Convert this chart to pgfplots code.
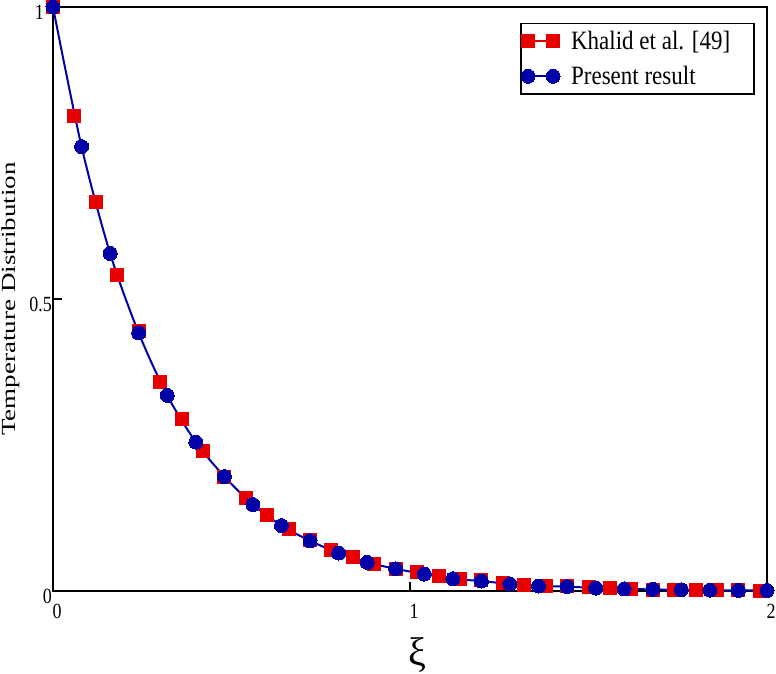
\documentclass[border=0pt]{standalone}
\usepackage{fontspec}
\setmainfont{Liberation Serif}
\usepackage{pgfplots}
\pgfplotsset{compat=1.18}

\definecolor{khalidred}{RGB}{232,0,0}
\definecolor{presentblue}{RGB}{0,0,168}

\pgfplotstableread{
x      T
0.00   1.000
0.06   0.814
0.12   0.666
0.18   0.541
0.24   0.445
0.30   0.358
0.36   0.294
0.42   0.240
0.48   0.196
0.54   0.160
0.60   0.130
0.66   0.107
0.72   0.088
0.78   0.070
0.84   0.058
0.90   0.047
0.96   0.038
1.02   0.033
1.08   0.026
1.14   0.021
1.20   0.018
1.26   0.014
1.32   0.010
1.38   0.0085
1.44   0.0080
1.50   0.0060
1.56   0.0050
1.62   0.0035
1.68   0.0025
1.74   0.0020
1.80   0.0018
1.86   0.0015
1.92   0.0010
1.98   0.0008
}\khalid

\pgfplotstableread{
x      T
0.00   1.000
0.08   0.761
0.16   0.578
0.24   0.442
0.32   0.335
0.40   0.255
0.48   0.196
0.56   0.148
0.64   0.112
0.72   0.086
0.80   0.065
0.88   0.049
0.96   0.038
1.04   0.029
1.12   0.021
1.20   0.017
1.28   0.012
1.36   0.0085
1.44   0.0075
1.52   0.0050
1.60   0.0035
1.68   0.0028
1.76   0.0020
1.84   0.0015
1.92   0.0010
2.00   0.0008
}\present

\newcommand{\tl}[1]{\scalebox{1}[1.2]{#1}}

\begin{document}
\begin{tikzpicture}
\path[use as bounding box] (-53bp,-83bp) rectangle (723bp,591bp);
\begin{axis}[
  at={(0,0)}, anchor=south west,
  scale only axis,
  width=714bp, height=584bp,
  xmin=0, xmax=2, ymin=0, ymax=1,
  xtick={0,1,2}, xticklabels={\tl{0},\tl{1},\tl{2}},
  ytick={0,0.5,1}, yticklabels={\tl{0},\tl{0.5},{\tl{1}\kern8bp}},
  /pgf/number format/assume math mode=true,
  tick align=inside,
  xtick pos=bottom, ytick pos=left,
  major tick length=9bp,
  every tick/.style={black, line width=2bp},
  axis line style={black, line width=2bp},
  ticklabel style={font=\fontsize{18bp}{20bp}\selectfont},
  yticklabel style={anchor=east, inner sep=1bp, yshift=-5bp},
  xticklabel style={anchor=north, inner sep=1bp, yshift=-12bp, xshift=4bp},
  xlabel={ξ},
  xlabel style={at={(rel axis cs:0.51,-0.1096)}, anchor=center,
    font=\fontsize{40bp}{42bp}\selectfont},
  ylabel={\scalebox{1.35}[1]{Temperature Distribution}},
  ylabel style={at={(rel axis cs:-0.0728,0.5)}, anchor=north, inner sep=0pt,
    font=\fontsize{20bp}{22bp}\selectfont},
  legend style={at={(0.983,0.973)}, anchor=north east, draw=black,
    line width=1.5bp, font=\fontsize{23bp}{27bp}\selectfont,
    inner xsep=0bp, inner ysep=6bp, row sep=11bp,
    /tikz/every odd column/.append style={column sep=9bp}},
  legend cell align=left,
  legend image code/.code={
    \draw[#1, sharp plot, mark repeat=2, mark phase=1]
      plot coordinates {(0bp,0bp) (12.5bp,0bp) (25bp,0bp)};
  },
]
\addplot[only marks, mark=square*, mark size=6.5bp, line width=2bp,
  color=khalidred, mark options={draw=khalidred, fill=khalidred, line width=0bp}]
  table[x=x, y=T] {\khalid};
\addlegendentry{\makebox[181bp][l]{\scalebox{1}[1.15]{Khalid et al. [49]}}}
\addplot[smooth, mark=*, mark size=7bp, line width=2bp, color=presentblue,
  mark options={draw=presentblue, fill=presentblue, line width=0bp}]
  table[x=x, y=T] {\present};
\addlegendentry{\makebox[181bp][l]{\scalebox{1}[1.15]{Present result}}}
\end{axis}
\end{tikzpicture}
\end{document}
